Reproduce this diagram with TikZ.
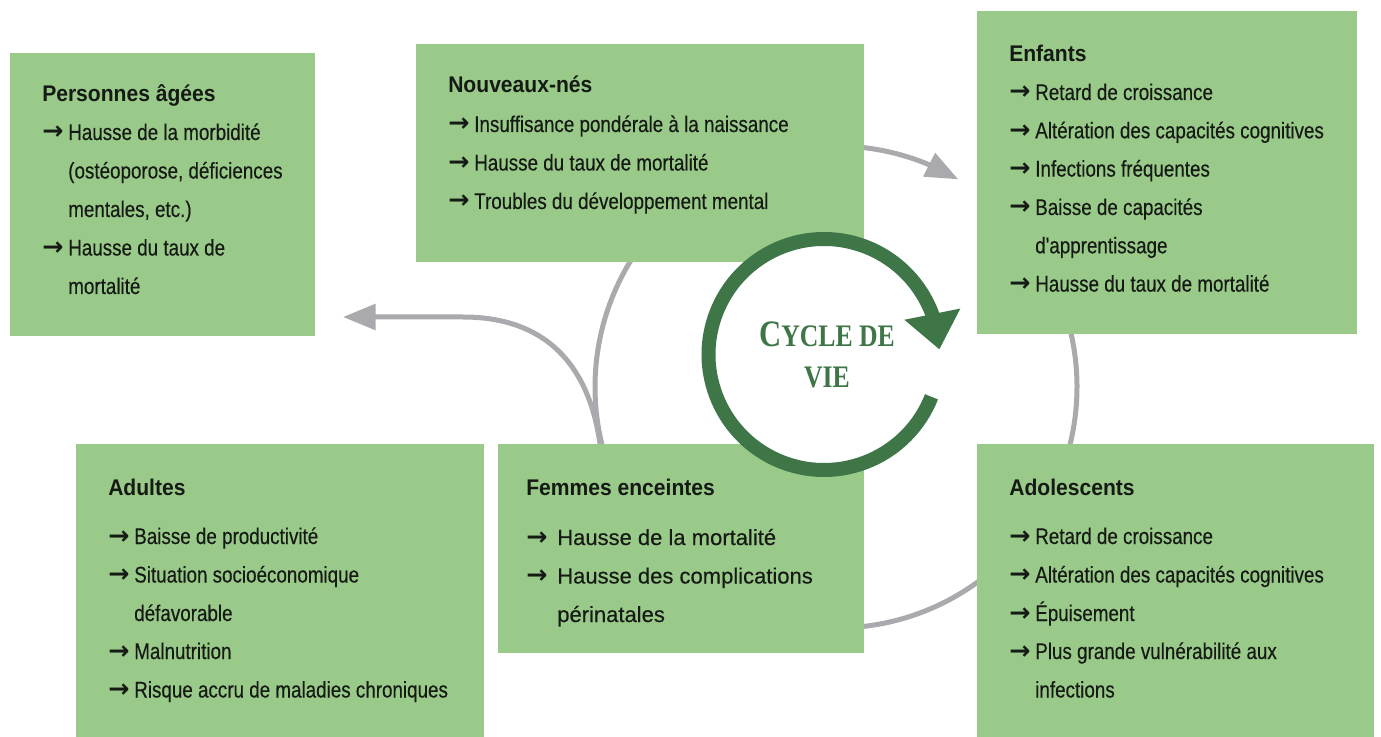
\documentclass[tikz,border=0pt]{standalone}
\usepackage{fontspec}
\usetikzlibrary{arrows.meta,bending}
\newfontfamily\itemfont[FakeStretch=0.83,FakeBold=0.35]{Liberation Sans}
\newfontfamily\titlefont[FakeStretch=0.93]{Liberation Sans}
\newfontfamily\femfont[FakeBold=0.3]{Liberation Sans}
\newfontfamily\arrfont{DejaVu Sans}
\newfontfamily\cyclefont[FakeStretch=0.82]{Liberation Serif}
\definecolor{boxgreen}{RGB}{153,202,137}
\definecolor{darkgreen}{RGB}{62,118,72}
\definecolor{ringgray}{RGB}{170,170,174}
\definecolor{txt}{RGB}{22,26,20}
\newcommand\arw{\makebox[19.5pt][l]{\arrfont\bfseries\fontsize{19pt}{20pt}\selectfont →}}
\newcommand\arwF{\makebox[23.25pt][l]{\arrfont\bfseries\fontsize{19pt}{20pt}\selectfont →}}
\begin{document}
\begin{tikzpicture}[x=0.75pt,y=-0.75pt,
  box/.style={fill=boxgreen,draw=none,inner sep=0pt,anchor=north west},
  ttl/.style={anchor=base west,inner sep=0pt,text=txt,font={\titlefont\bfseries\fontsize{17pt}{20pt}\selectfont}},
  itm/.style={anchor=base west,inner sep=0pt,text=txt,font={\itemfont\fontsize{17pt}{20pt}\selectfont}},
  fitm/.style={anchor=base west,inner sep=0pt,text=txt,font={\femfont\fontsize{16.5pt}{20pt}\selectfont}},
  garrow/.style={draw=ringgray,line width=3.75pt,-{Triangle[length=24.5pt,width=19pt,flex=1]}},
  cyctxt/.style={anchor=base,inner sep=0pt,text=darkgreen,font={\cyclefont\bfseries}}
]
\fill[white] (0,0) rectangle (1381,737);
\useasboundingbox (0,0) rectangle (1381,737);

% gray life-cycle ring
\coordinate (gc) at (836,387);
\draw[garrow] ([shift={(-40:241)}]gc) arc[start angle=-40,end angle=300.5,radius=241];
% branch towards elderly
\coordinate (bs) at (601,452);
\coordinate (bt) at (343,317);
\draw[garrow] (bs) .. controls (592,370) and (550,317) .. (463,317) -- (bt);

% boxes
\node[box,minimum width=228.75pt,minimum height=212.25pt] (pa) at (10,53) {};
\node[box,minimum width=336pt,minimum height=163.5pt] (nn) at (416,44) {};
\node[box,minimum width=285pt,minimum height=242.25pt] (en) at (977,11) {};
\node[box,minimum width=306pt,minimum height=219.75pt] (ad) at (76,444) {};
\node[box,minimum width=274.5pt,minimum height=156.75pt] (fe) at (498,444) {};
\node[box,minimum width=297.75pt,minimum height=219.75pt] (ao) at (977,444) {};

% central cycle
\coordinate (cc) at (824,354.5);
\fill[white] (cc) circle[radius=116];
\draw[darkgreen,line width=10.5pt,-{Triangle[length=27pt,width=41pt,flex=1]}]
  ([shift={(21.5:115.5)}]cc) arc[start angle=21.5,end angle=357.5,radius=115.5];
\node[cyctxt] (cy1) at (827,347) {{\fontsize{28pt}{28pt}\selectfont C}{\fontsize{23.5pt}{24pt}\selectfont YCLE DE}};
\node[cyctxt] (cy2) at (827,388) {{\fontsize{23.5pt}{24pt}\selectfont VIE}};

% Personnes agees
\node[ttl] (pa0) at (42,102) {Personnes âgées};
\node[itm] (pa1) at (42,140) {\arw Hausse de la morbidité};
\node[itm] (pa2) at (68,178.5) {(ostéoporose, déficiences};
\node[itm] (pa3) at (68,217) {mentales, etc.)};
\node[itm] (pa4) at (42,255.5) {\arw Hausse du taux de};
\node[itm] (pa5) at (68,294) {mortalité};

% Nouveaux-nes
\node[ttl] (nn0) at (448,93) {Nouveaux-nés};
\node[itm] (nn1) at (448,132) {\arw Insuffisance pondérale à la naissance};
\node[itm] (nn2) at (448,170.5) {\arw Hausse du taux de mortalité};
\node[itm] (nn3) at (448,209) {\arw Troubles du développement mental};

% Enfants
\node[ttl] (en0) at (1009,62) {Enfants};
\node[itm] (en1) at (1009,100) {\arw Retard de croissance};
\node[itm] (en2) at (1009,138.3) {\arw Altération des capacités cognitives};
\node[itm] (en3) at (1009,176.6) {\arw Infections fréquentes};
\node[itm] (en4) at (1009,215) {\arw Baisse de capacités};
\node[itm] (en5) at (1035,253.3) {d'apprentissage};
\node[itm] (en6) at (1009,291.6) {\arw Hausse du taux de mortalité};

% Adultes
\node[ttl] (ad0) at (108,495) {Adultes};
\node[itm] (ad1) at (108,544) {\arw Baisse de productivité};
\node[itm] (ad2) at (108,582.5) {\arw Situation socioéconomique};
\node[itm] (ad3) at (134,621) {défavorable};
\node[itm] (ad4) at (108,659) {\arw Malnutrition};
\node[itm] (ad5) at (108,697.5) {\arw Risque accru de maladies chroniques};

% Femmes enceintes
\node[ttl] (fe0) at (526,495) {Femmes enceintes};
\node[fitm] (fe1) at (526,545) {\arwF Hausse de la mortalité};
\node[fitm] (fe2) at (526,583.5) {\arwF Hausse des complications};
\node[fitm] (fe3) at (557,622) {périnatales};

% Adolescents
\node[ttl] (ao0) at (1009,495) {Adolescents};
\node[itm] (ao1) at (1009,544) {\arw Retard de croissance};
\node[itm] (ao2) at (1009,582.5) {\arw Altération des capacités cognitives};
\node[itm] (ao3) at (1009,621) {\arw Épuisement};
\node[itm] (ao4) at (1009,659) {\arw Plus grande vulnérabilité aux};
\node[itm] (ao5) at (1035,697.5) {infections};
\end{tikzpicture}
\end{document}
